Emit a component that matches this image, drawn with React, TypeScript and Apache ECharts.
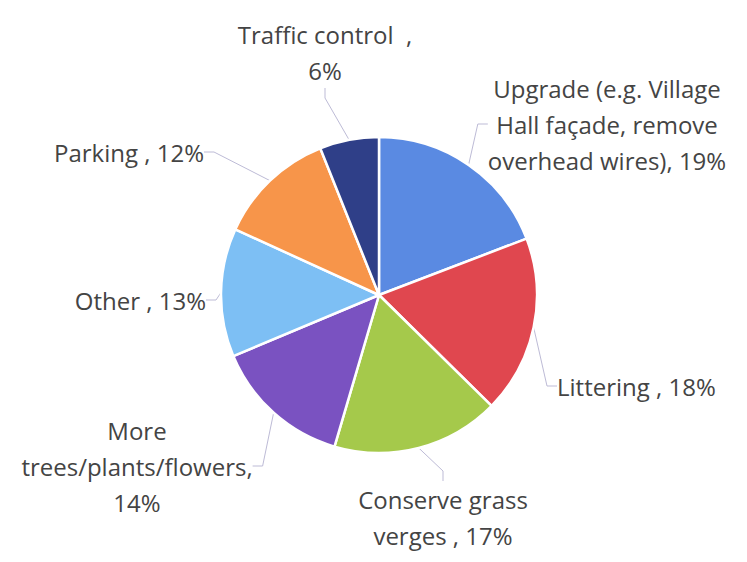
import React, { useEffect, useRef } from "react";
import * as echarts from "echarts";

const categories = [
  "Upgrade (e.g. Village Hall façade, remove overhead wires)",
  "Littering",
  "Conserve grass verges",
  "More trees/plants/flowers",
  "Other",
  "Parking",
  "Traffic control",
];
const values = [19, 18, 17, 14, 13, 12, 6];
const labelTexts = [
  "Upgrade (e.g. Village\nHall façade, remove\noverhead wires), {v}%",
  "Littering , {v}%",
  "Conserve grass\nverges , {v}%",
  "More\ntrees/plants/flowers,\n{v}%",
  "Other , {v}%",
  "Parking , {v}%",
  "Traffic control  ,\n{v}%",
];
const colors = ["#5a8ae2", "#e0474f", "#a5c94b", "#7a52c1", "#7dbff4", "#f7954a", "#2f3f88"];

// label placement (layout only)
const labelPos: { x: number; y: number; align: string }[] = [
  { x: 607, y: 124, align: "center" },
  { x: 557, y: 386, align: "left" },
  { x: 443, y: 517, align: "center" },
  { x: 137, y: 466, align: "center" },
  { x: 206, y: 300, align: "right" },
  { x: 204, y: 152, align: "right" },
  { x: 325, y: 52, align: "center" },
];

export default function App() {
  const ref = useRef<HTMLDivElement>(null);
  useEffect(() => {
    if (!ref.current) return;
    const chart = echarts.init(ref.current, undefined, { renderer: "svg" });
    chart.setOption({
      animation: false,
      backgroundColor: "#ffffff",
      series: [
        {
          type: "pie",
          center: [379, 295],
          radius: 158,
          startAngle: 90,
          clockwise: true,
          data: categories.map((c, i) => ({
            name: c,
            value: values[i],
            itemStyle: { color: colors[i] },
          })),
          itemStyle: { borderColor: "#ffffff", borderWidth: 2.5 },
          label: {
            show: true,
            position: "outside",
            formatter: (p: any) => labelTexts[p.dataIndex].replace("{v}", String(p.value)),
            fontFamily: "'Open Sans', sans-serif",
            fontSize: 24,
            lineHeight: 36,
            color: "#444444",
          },
          labelLine: {
            show: true,
            length: 10,
            length2: 10,
            lineStyle: { color: "#bdbbd6", width: 1 },
          },
          labelLayout: (params: any) => {
            const p = labelPos[params.dataIndex];
            return { x: p.x, y: p.y, align: p.align, verticalAlign: "middle" };
          },
        },
      ],
    });
    return () => chart.dispose();
  }, []);
  return (
    <div
      ref={ref}
      style={{ position: "absolute", left: 0, top: 0, width: 747, height: 562 }}
    />
  );
}
